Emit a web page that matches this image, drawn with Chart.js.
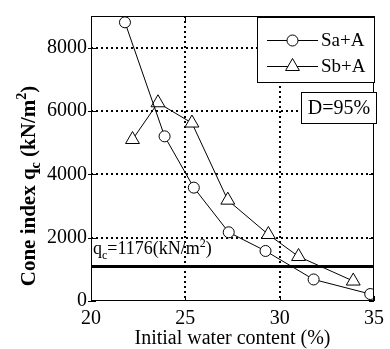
<!DOCTYPE html>
<html><head><meta charset="utf-8">
<script src="https://cdn.jsdelivr.net/npm/chart.js@4.4.1/dist/chart.umd.min.js"></script>
<style>html,body{margin:0;padding:0;background:#fff}#wrap{width:390px;height:349px}</style>
</head><body><div id="wrap"><canvas id="c" width="390" height="349"></canvas></div>
<script>
const seriesNames = ['Sa+A', 'Sb+A'];
const saX = [21.8, 23.9, 25.45, 27.3, 29.25, 31.8, 34.8];
const saY = [8800, 5200, 3580, 2170, 1580, 680, 220];
const sbX = [22.2, 23.55, 25.35, 27.25, 29.4, 31.0, 33.9];
const sbY = [5100, 6260, 5620, 3185, 2100, 1405, 630];
const xTicks = [20, 25, 30, 35];
const yTicks = [0, 2000, 4000, 6000, 8000];
const qcLineX = [20, 35];
const qcLineY = [1090, 1090];
const boxLabel = 'D=95%';
const xTitle = 'Initial water content (%)';

const FONT = '"Liberation Serif", "Times New Roman", serif';
const toPts = (xs, ys) => xs.map((x, i) => ({x: x, y: ys[i]}));

function drawRuns(ctx, runs, x, y, align) {
  let total = 0;
  runs.forEach(r => { ctx.font = (r.bold ? 'bold ' : '') + r.size + 'px ' + FONT; r.w = ctx.measureText(r.t).width; total += r.w; });
  let cx = align === 'center' ? x - total / 2 : x;
  ctx.textAlign = 'left';
  ctx.textBaseline = 'alphabetic';
  runs.forEach(r => { ctx.font = (r.bold ? 'bold ' : '') + r.size + 'px ' + FONT; ctx.fillText(r.t, cx, y + (r.dy || 0)); cx += r.w; });
}

function marker(ctx, style, x, y) {
  ctx.save();
  ctx.fillStyle = '#fff'; ctx.strokeStyle = '#000'; ctx.lineWidth = 1;
  ctx.beginPath();
  if (style === 'circle') { ctx.arc(x, y, 5.5, 0, Math.PI * 2); }
  else { const r = 8; ctx.moveTo(x, y - r); ctx.lineTo(x + r * 0.866, y + r / 2); ctx.lineTo(x - r * 0.866, y + r / 2); ctx.closePath(); }
  ctx.fill(); ctx.stroke();
  ctx.restore();
}

function drawGrid(chart) {
  const ctx = chart.ctx, a = chart.chartArea, xs = chart.scales.x, ys = chart.scales.y;
  ctx.save();
  ctx.fillStyle = '#000';
  yTicks.forEach(v => {
    if (v === 0) return;
    const py = Math.round(ys.getPixelForValue(v));
    for (let x = a.left; x < a.right; x += 5) ctx.fillRect(x, py - 1, 2, 2);
  });
  xTicks.forEach(v => {
    if (v === 20 || v === 35) return;
    const px = Math.round(xs.getPixelForValue(v));
    for (let y = a.top; y < a.bottom; y += 5) ctx.fillRect(px - 1, y, 2, 2);
  });
  ctx.restore();
}

const decor = {
  id: 'decor',
  beforeDatasetsDraw(chart) { drawGrid(chart); },
  afterDraw(chart) {
    const ctx = chart.ctx, a = chart.chartArea, xs = chart.scales.x, ys = chart.scales.y;
    ctx.save();
    ctx.strokeStyle = '#000'; ctx.lineWidth = 1; ctx.setLineDash([]);
    ctx.strokeRect(a.left + 0.5, a.top + 0.5, a.right - a.left - 1, a.bottom - a.top - 1);
    ctx.beginPath();
    yTicks.forEach(v => { const py = Math.round(ys.getPixelForValue(v)) + 0.5; ctx.moveTo(a.left - 3, py); ctx.lineTo(a.left + 5, py); ctx.moveTo(a.right, py); ctx.lineTo(a.right - 5, py); });
    xTicks.forEach(v => { const px = Math.round(xs.getPixelForValue(v)) + 0.5; ctx.moveTo(px, a.bottom); ctx.lineTo(px, a.bottom - 5); ctx.moveTo(px, a.top); ctx.lineTo(px, a.top + 5); });
    ctx.stroke();
    ctx.fillStyle = '#000';
    drawRuns(ctx, [{t: 'q', size: 18}, {t: 'c', size: 12, dy: 5}, {t: '=1176(kN/m', size: 18}, {t: '2', size: 12, dy: -7}, {t: ')', size: 18}], a.left + 2, 254, 'left');
    ctx.fillStyle = '#fff';
    ctx.fillRect(257, 17, 117, 65);
    ctx.strokeRect(257.5, 17.5, 117, 65);
    const rows = [{y: 40, s: 'circle'}, {y: 66, s: 'triangle'}];
    rows.forEach((r, i) => {
      ctx.beginPath(); ctx.moveTo(267, r.y + 0.5); ctx.lineTo(318, r.y + 0.5); ctx.stroke();
      marker(ctx, r.s, 292.5, r.y + 0.5);
      ctx.fillStyle = '#000';
      ctx.font = '19px ' + FONT; ctx.textAlign = 'left'; ctx.textBaseline = 'middle';
      ctx.fillText(seriesNames[i], 321, r.y + 1);
    });
    ctx.fillStyle = '#fff';
    ctx.fillRect(301, 92, 75, 31);
    ctx.strokeRect(301.5, 92.5, 75, 31);
    ctx.fillStyle = '#000';
    ctx.font = '20px ' + FONT; ctx.textAlign = 'center'; ctx.textBaseline = 'middle';
    ctx.fillText(boxLabel, 339, 109);
    ctx.save();
    ctx.translate(35, 186);
    ctx.rotate(-Math.PI / 2);
    drawRuns(ctx, [{t: 'Cone index q', size: 21, bold: true}, {t: 'c', size: 14, bold: true, dy: 5}, {t: ' (kN/m', size: 21, bold: true}, {t: '2', size: 14, bold: true, dy: -9}, {t: ')', size: 21, bold: true}], 0, 0, 'center');
    ctx.restore();
    ctx.font = '20px ' + FONT; ctx.textAlign = 'center'; ctx.textBaseline = 'alphabetic';
    ctx.fillText(xTitle, (a.left + a.right) / 2, 344);
    ctx.restore();
  }
};

new Chart(document.getElementById('c'), {
  type: 'scatter',
  data: {
    datasets: [
      {label: 'qc', data: toPts(qcLineX, qcLineY), showLine: true, borderColor: '#000', borderWidth: 3, pointRadius: 0, order: 3},
      {label: seriesNames[0], data: toPts(saX, saY), showLine: true, borderColor: '#000', borderWidth: 1, pointStyle: 'circle', pointRadius: 5.5, pointBackgroundColor: '#fff', pointBorderColor: '#000', pointBorderWidth: 1, order: 1},
      {label: seriesNames[1], data: toPts(sbX, sbY), showLine: true, borderColor: '#000', borderWidth: 1, pointStyle: 'triangle', pointRadius: 8, pointBackgroundColor: '#fff', pointBorderColor: '#000', pointBorderWidth: 1, order: 2}
    ]
  },
  options: {
    responsive: false, animation: false, devicePixelRatio: 1,
    layout: {padding: {top: 10, right: 8, left: 0, bottom: 0}},
    plugins: {legend: {display: false}, tooltip: {enabled: false}, title: {display: false}},
    scales: {
      x: {
        type: 'linear', min: 20, max: 35,
        afterBuildTicks: s => { s.ticks = xTicks.map(v => ({value: v})); },
        afterFit: s => { s.height = 48; },
        grid: {display: false, drawTicks: false},
        border: {display: false},
        ticks: {color: '#000', padding: 6, font: {family: FONT, size: 20}, maxRotation: 0, callback: v => String(v)}
      },
      y: {
        type: 'linear', min: 0, max: 9000,
        afterBuildTicks: s => { s.ticks = yTicks.map(v => ({value: v})); },
        afterFit: s => { s.width = 91; },
        grid: {display: false, drawTicks: false},
        border: {display: false},
        ticks: {color: '#000', padding: 4, font: {family: FONT, size: 20}, callback: v => String(v)}
      }
    }
  },
  plugins: [decor]
});
</script>
</body></html>
